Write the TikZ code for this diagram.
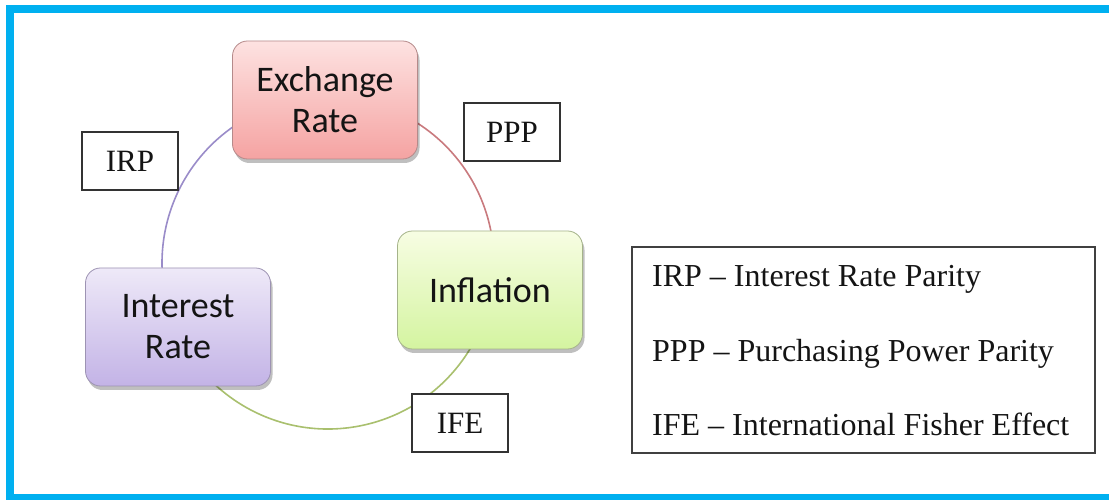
\documentclass[tikz,border=0pt]{standalone}
\usepackage{fontspec}
\setmainfont{Liberation Serif}
\newfontfamily\boxfont{Carlito}
\usetikzlibrary{shadows}
\definecolor{frameblue}{HTML}{00B0F0}
\definecolor{pinkT}{HTML}{FDE2E1}
\definecolor{pinkB}{HTML}{F5A3A2}
\definecolor{pinkD}{HTML}{B58A8A}
\definecolor{greenT}{HTML}{F7FDE3}
\definecolor{greenB}{HTML}{D4F4A0}
\definecolor{greenD}{HTML}{A5B38A}
\definecolor{purpT}{HTML}{EEE9F8}
\definecolor{purpB}{HTML}{C3B3E6}
\definecolor{purpD}{HTML}{9D93B3}
\definecolor{arcred}{HTML}{C97A7E}
\definecolor{arcpurp}{HTML}{9A8CC9}
\definecolor{arcgreen}{HTML}{A9C06E}
\definecolor{txt}{HTML}{141414}
\tikzset{
  mainbox/.style={rounded corners=15pt, minimum width=185pt, minimum height=118pt,
    align=center, text=txt, font=\boxfont\fontsize{36}{41}\selectfont, line width=0.8pt,
    drop shadow={shadow xshift=2pt, shadow yshift=-4pt, fill=black, opacity=0.25}},
  lblbox/.style={draw=black!80, line width=1.8pt, fill=white, minimum width=96pt,
    minimum height=58pt, font=\fontsize{31}{36}\selectfont, text=txt},
  arcline/.style={line width=1.6pt},
  legtext/.style={anchor=base west, font=\fontsize{32}{36}\selectfont, text=txt, inner sep=0pt}
}
\begin{document}
\begin{tikzpicture}[x=1pt,y=1pt]
\useasboundingbox (0,0) rectangle (1109,500);
\clip (0,0) rectangle (1109,500);
\fill[white] (0,0) rectangle (1109,500);
\draw[frameblue, line width=8pt] (1130,491) -- (10,491) -- (10,2) -- (1130,2);
% cycle arcs
\coordinate (c) at (328,237);
\draw[arcline, arcred] ([shift={(90:166)}]c) arc[start angle=90, end angle=-10, radius=166];
\draw[arcline, arcpurp] ([shift={(90:166)}]c) arc[start angle=90, end angle=190, radius=166];
\draw[arcline, arcgreen] ([shift={(190:166)}]c) arc[start angle=190, end angle=350, radius=166];
% main boxes
\node[mainbox, draw=pinkD, top color=pinkT, bottom color=pinkB] (ex) at (325,400) {Exchange\\Rate};
\node[mainbox, draw=greenD, top color=greenT, bottom color=greenB] (inf) at (490,210) {Inflation};
\node[mainbox, draw=purpD, top color=purpT, bottom color=purpB] (int) at (178,173) {Interest\\Rate};
% label boxes
\node[lblbox] (irp) at (130,339) {IRP};
\node[lblbox] (ppp) at (512,368) {PPP};
\node[lblbox] (ife) at (460,77) {IFE};
% legend
\node[draw=black!75, line width=1.8pt, minimum width=463pt, minimum height=206pt] (leg) at (863.5,150) {};
\node[legtext] (l1) at (652,213) {IRP -- Interest Rate Parity};
\node[legtext] (l2) at (652,138) {PPP -- Purchasing Power Parity};
\node[legtext] (l3) at (652,64) {IFE -- International Fisher Effect};
\end{tikzpicture}
\end{document}
